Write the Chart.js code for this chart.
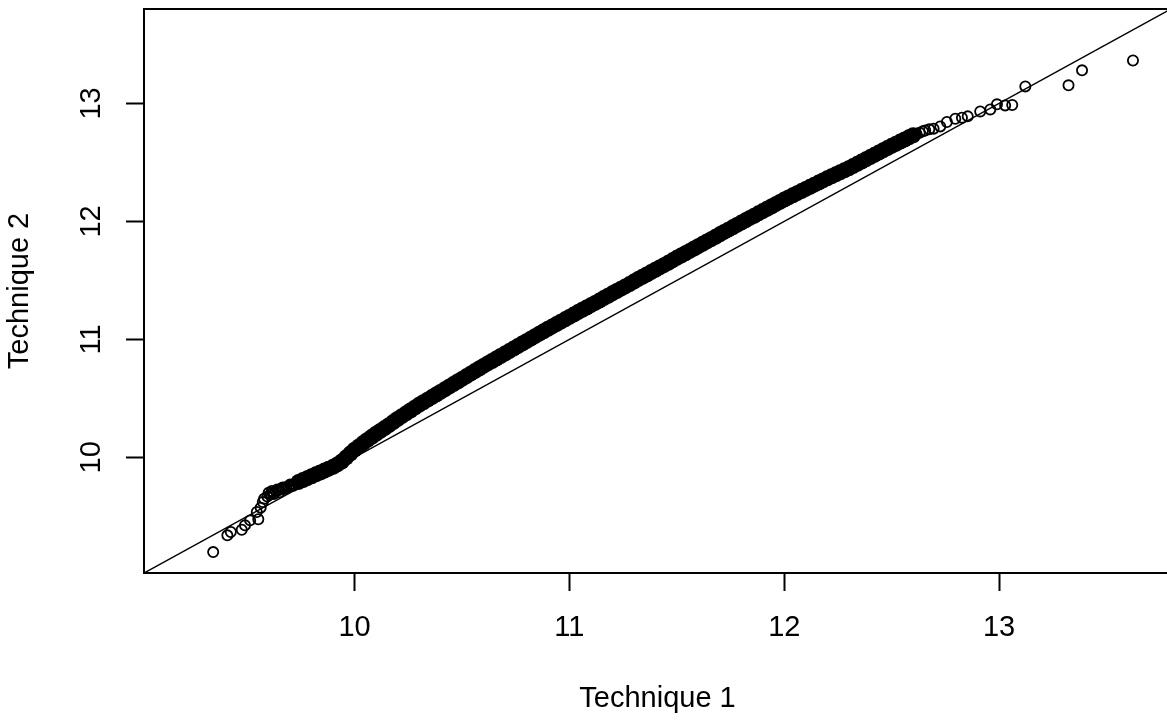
<!DOCTYPE html>
<html>
<head>
<meta charset="utf-8">
<script src="https://cdn.jsdelivr.net/npm/chart.js@4.4.1/dist/chart.umd.min.js"></script>
<style>
  html, body { margin: 0; padding: 0; background: #ffffff; overflow: hidden; }
  canvas { display: block; }
</style>
</head>
<body>
<canvas id="qq" width="1171" height="721"></canvas>
<script>
// Q-Q plot: sorted Technique 1 values against sorted Technique 2 values.

// Tick positions on both axes
const xTicks = [10, 11, 12, 13];
const yTicks = [10, 11, 12, 13];

// Shared axis limits (range of both samples, R-style 4% extension)
const axisLimits = [9.02, 13.80];

// Identity line y = x (end points, clipped to the plot box)
const identityX = [9.0, 14.0];
const identityY = [9.0, 14.0];

// Lower tail: quantile pairs that stand apart from each other
const lowTailX = [9.342, 9.408, 9.424, 9.475, 9.490, 9.514, 9.552, 9.545, 9.563, 9.573,
                  9.579, 9.594, 9.600, 9.610, 9.615, 9.622, 9.625, 9.634, 9.640, 9.646,
                  9.650, 9.658, 9.665, 9.670, 9.680, 9.682, 9.694, 9.700, 9.706, 9.715,
                  9.718, 9.730];
const lowTailY = [9.197, 9.339, 9.367, 9.387, 9.424, 9.466, 9.475, 9.537, 9.574, 9.621,
                  9.650, 9.669, 9.700, 9.690, 9.715, 9.703, 9.690, 9.714, 9.728, 9.722,
                  9.705, 9.731, 9.745, 9.740, 9.735, 9.748, 9.756, 9.770, 9.764, 9.760,
                  9.773, 9.782];

// Central quantiles, packed so tightly that the circles merge into one band
const coreX = [
  9.74, 9.76, 9.78, 9.80, 9.82, 9.84, 9.86, 9.88, 9.90, 9.92, 9.94, 9.96, 9.98,
  10.00, 10.02, 10.04, 10.06, 10.08, 10.10, 10.12, 10.14, 10.16, 10.18, 10.20,
  10.22, 10.24, 10.26, 10.28, 10.30, 10.32, 10.34, 10.36, 10.38, 10.40, 10.42,
  10.44, 10.46, 10.48, 10.50, 10.52, 10.54, 10.56, 10.58, 10.60, 10.62, 10.64,
  10.66, 10.68, 10.70, 10.72, 10.74, 10.76, 10.78, 10.80, 10.82, 10.84, 10.86,
  10.88, 10.90, 10.92, 10.94, 10.96, 10.98, 11.00, 11.02, 11.04, 11.06, 11.08,
  11.10, 11.12, 11.14, 11.16, 11.18, 11.20, 11.22, 11.24, 11.26, 11.28, 11.30,
  11.32, 11.34, 11.36, 11.38, 11.40, 11.42, 11.44, 11.46, 11.48, 11.50, 11.52,
  11.54, 11.56, 11.58, 11.60, 11.62, 11.64, 11.66, 11.68, 11.70, 11.72, 11.74,
  11.76, 11.78, 11.80, 11.82, 11.84, 11.86, 11.88, 11.90, 11.92, 11.94, 11.96,
  11.98, 12.00, 12.02, 12.04, 12.06, 12.08, 12.10, 12.12, 12.14, 12.16, 12.18,
  12.20, 12.22, 12.24, 12.26, 12.28, 12.30, 12.32, 12.34, 12.36, 12.38, 12.40,
  12.42, 12.44, 12.46, 12.48, 12.50, 12.52, 12.54, 12.56, 12.58, 12.60
];
const coreY = [
  9.792, 9.808, 9.824, 9.840, 9.856, 9.872, 9.888, 9.904, 9.920, 9.940, 9.965, 9.998, 10.032,
  10.065, 10.093, 10.121, 10.148, 10.174, 10.200, 10.224, 10.248, 10.273, 10.299, 10.325,
  10.349, 10.373, 10.397, 10.421, 10.445, 10.467, 10.489, 10.511, 10.533, 10.555, 10.577,
  10.599, 10.621, 10.643, 10.665, 10.687, 10.709, 10.731, 10.753, 10.775, 10.796, 10.817,
  10.838, 10.859, 10.880, 10.901, 10.922, 10.943, 10.964, 10.985, 11.006, 11.027, 11.048,
  11.069, 11.090, 11.110, 11.130, 11.150, 11.170, 11.190, 11.210, 11.231, 11.251, 11.270,
  11.290, 11.309, 11.329, 11.350, 11.370, 11.390, 11.410, 11.430, 11.449, 11.469, 11.490,
  11.511, 11.531, 11.550, 11.570, 11.590, 11.610, 11.629, 11.649, 11.670, 11.691, 11.711,
  11.730, 11.750, 11.770, 11.790, 11.810, 11.830, 11.849, 11.869, 11.890, 11.911, 11.930,
  11.950, 11.970, 11.990, 12.009, 12.029, 12.048, 12.068, 12.087, 12.107, 12.126, 12.146,
  12.165, 12.185, 12.203, 12.221, 12.239, 12.257, 12.275, 12.293, 12.311, 12.329, 12.347,
  12.365, 12.382, 12.399, 12.416, 12.433, 12.450, 12.469, 12.488, 12.507, 12.526, 12.545,
  12.564, 12.583, 12.602, 12.621, 12.640, 12.658, 12.676, 12.694, 12.712, 12.730
];

// Upper tail: quantile pairs that stand apart from each other
const highTailX = [12.615, 12.630, 12.645, 12.656, 12.675, 12.695, 12.726, 12.757, 12.796, 12.827,
                   12.854, 12.912, 12.959, 12.990, 13.028, 13.061, 13.122, 13.323, 13.386, 13.623];
const highTailY = [12.742, 12.752, 12.763, 12.771, 12.780, 12.786, 12.805, 12.842, 12.870, 12.879,
                   12.890, 12.932, 12.949, 12.992, 12.983, 12.987, 13.144, 13.153, 13.280, 13.364];

const FONT = '"Liberation Sans", Arial, sans-serif';
const INK = '#000000';

const pairs = (xs, ys) => xs.map((x, i) => ({ x: x, y: ys[i] }));

// Plot frame (R box) around the plotting region
const framePlugin = {
  id: 'frame',
  afterDatasetsDraw(chart) {
    const { ctx, chartArea: a } = chart;
    ctx.save();
    ctx.strokeStyle = INK;
    ctx.lineWidth = 2;
    ctx.strokeRect(a.left, a.top, a.right - a.left, a.bottom - a.top);
    ctx.restore();
  }
};

// Y tick labels written parallel to the axis, reading upward
const yLabelPlugin = {
  id: 'yLabels',
  afterDraw(chart) {
    const { ctx } = chart;
    const ys = chart.scales.y;
    ctx.save();
    ctx.fillStyle = INK;
    ctx.font = '29px ' + FONT;
    ctx.textAlign = 'center';
    ctx.textBaseline = 'middle';
    yTicks.forEach(v => {
      ctx.save();
      ctx.translate(91.5, ys.getPixelForValue(v));
      ctx.rotate(-Math.PI / 2);
      ctx.fillText(String(v), 0, 0);
      ctx.restore();
    });
    ctx.restore();
  }
};

const openCircle = {
  pointStyle: 'circle',
  pointRadius: 5.1,
  pointBorderWidth: 1.8,
  pointBorderColor: INK,
  pointBackgroundColor: 'rgba(0,0,0,0)',
  showLine: false
};

new Chart(document.getElementById('qq'), {
  type: 'scatter',
  data: {
    datasets: [
      {
        type: 'line',
        label: 'y = x',
        data: pairs(identityX, identityY),
        borderColor: INK,
        borderWidth: 1.5,
        pointRadius: 0,
        fill: false,
        tension: 0
      },
      Object.assign({ label: 'lower tail', data: pairs(lowTailX, lowTailY) }, openCircle),
      {
        label: 'centre',
        data: pairs(coreX, coreY),
        pointStyle: 'circle',
        pointRadius: 8,
        pointBorderWidth: 0,
        pointBackgroundColor: INK,
        showLine: false
      },
      Object.assign({ label: 'upper tail', data: pairs(highTailX, highTailY) }, openCircle)
    ]
  },
  options: {
    responsive: false,
    animation: false,
    devicePixelRatio: 1,
    layout: { autoPadding: false, padding: { top: 9, right: 0, bottom: 0, left: 0 } },
    plugins: {
      legend: { display: false },
      tooltip: { enabled: false }
    },
    scales: {
      x: {
        type: 'linear',
        min: axisLimits[0],
        max: axisLimits[1],
        afterBuildTicks: s => { s.ticks = xTicks.map(v => ({ value: v })); },
        afterFit: s => {
          s.height = 148;
          s.paddingLeft = 0;
          s.paddingRight = 0;
        },
        grid: {
          display: true,
          drawOnChartArea: false,
          drawTicks: true,
          tickLength: 18,
          tickWidth: 2,
          tickColor: INK
        },
        border: { display: true, color: INK, width: 2 },
        ticks: {
          color: INK,
          font: { family: FONT, size: 29 },
          padding: 20,
          maxRotation: 0,
          autoSkip: false
        },
        title: {
          display: true,
          text: 'Technique 1',
          color: INK,
          font: { family: FONT, size: 29 },
          padding: { top: 0, bottom: 4.5 }
        }
      },
      y: {
        type: 'linear',
        min: axisLimits[0],
        max: axisLimits[1],
        afterBuildTicks: s => { s.ticks = yTicks.map(v => ({ value: v })); },
        afterFit: s => {
          s.width = 144;
          s.paddingTop = 0;
          s.paddingBottom = 0;
        },
        grid: {
          display: true,
          drawOnChartArea: false,
          drawTicks: true,
          tickLength: 18,
          tickWidth: 2,
          tickColor: INK
        },
        border: { display: true, color: INK, width: 2 },
        ticks: { display: false },
        title: {
          display: true,
          text: 'Technique 2',
          color: INK,
          font: { family: FONT, size: 29 },
          padding: { top: 3, bottom: 0 }
        }
      }
    }
  },
  plugins: [framePlugin, yLabelPlugin]
});
</script>
</body>
</html>
